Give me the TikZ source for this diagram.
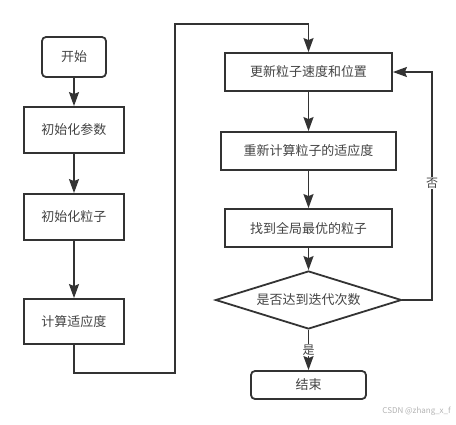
\documentclass[tikz,border=0pt]{standalone}
\usepackage{fontspec}
\setmainfont{Noto Sans CJK SC}
\usetikzlibrary{shapes.geometric,arrows.meta}
\definecolor{ln}{HTML}{333333}
\definecolor{tx}{HTML}{444444}
\tikzset{
  base/.style={draw=ln,line width=1.8pt,fill=white,text=tx,inner sep=0pt,font=\fontsize{13}{15}\selectfont},
  proc/.style={base,rectangle},
  term/.style={base,rectangle,rounded corners=4pt},
  dec/.style={base,diamond,aspect=3.2},
  arr/.style={draw=ln,line width=1.8pt,-{Stealth[length=14pt,width=10pt,inset=2pt]}},
  lab/.style={fill=white,text=tx,inner sep=1pt,font=\fontsize{12}{14}\selectfont}
}
\begin{document}
\begin{tikzpicture}[x=1pt,y=-1pt]
\useasboundingbox (0,0) rectangle (456,424);
\node[term,minimum width=64pt,minimum height=40pt] (s) at (74,57) {开始};
\node[proc,minimum width=100pt,minimum height=46pt] (p1) at (74,130) {初始化参数};
\node[proc,minimum width=100pt,minimum height=46pt] (p2) at (74,217) {初始化粒子};
\node[proc,minimum width=100pt,minimum height=45pt] (p3) at (74,321.5) {计算适应度};
\node[proc,minimum width=167pt,minimum height=38pt] (u1) at (308.5,72) {更新粒子速度和位置};
\node[proc,minimum width=175pt,minimum height=38pt] (u2) at (308.5,151) {重新计算粒子的适应度};
\node[proc,minimum width=167pt,minimum height=38pt] (u3) at (308.5,228) {找到全局最优的粒子};
\node[dec,minimum width=186pt,minimum height=58pt] (d) at (308.5,300) {是否达到迭代次数};
\node[term,minimum width=115pt,minimum height=28pt] (e) at (308.5,385) {结束};
\coordinate (c1) at (74,373);
\coordinate (c2) at (175,24);
\coordinate (c3) at (432,300);
\draw[arr] (s) -- (p1);
\draw[arr] (p1) -- (p2);
\draw[arr] (p2) -- (p3);
\draw[arr] (p3.south) -- (c1) -| (c2) -| (u1.north);
\draw[arr] (u1) -- (u2);
\draw[arr] (u2) -- (u3);
\draw[arr] (u3) -- (d.north);
\draw[arr] (d.south) -- node[lab,pos=0.5]{是} (e.north);
\draw[arr] (d.east) -- (c3) |- node[lab,pos=0.257]{否} (u1.east);
\node[text=black!30,inner sep=0pt,font=\fontsize{8}{9}\selectfont,anchor=east] (w) at (451,411) {CSDN @zhang\_x\_f};
\end{tikzpicture}
\end{document}
